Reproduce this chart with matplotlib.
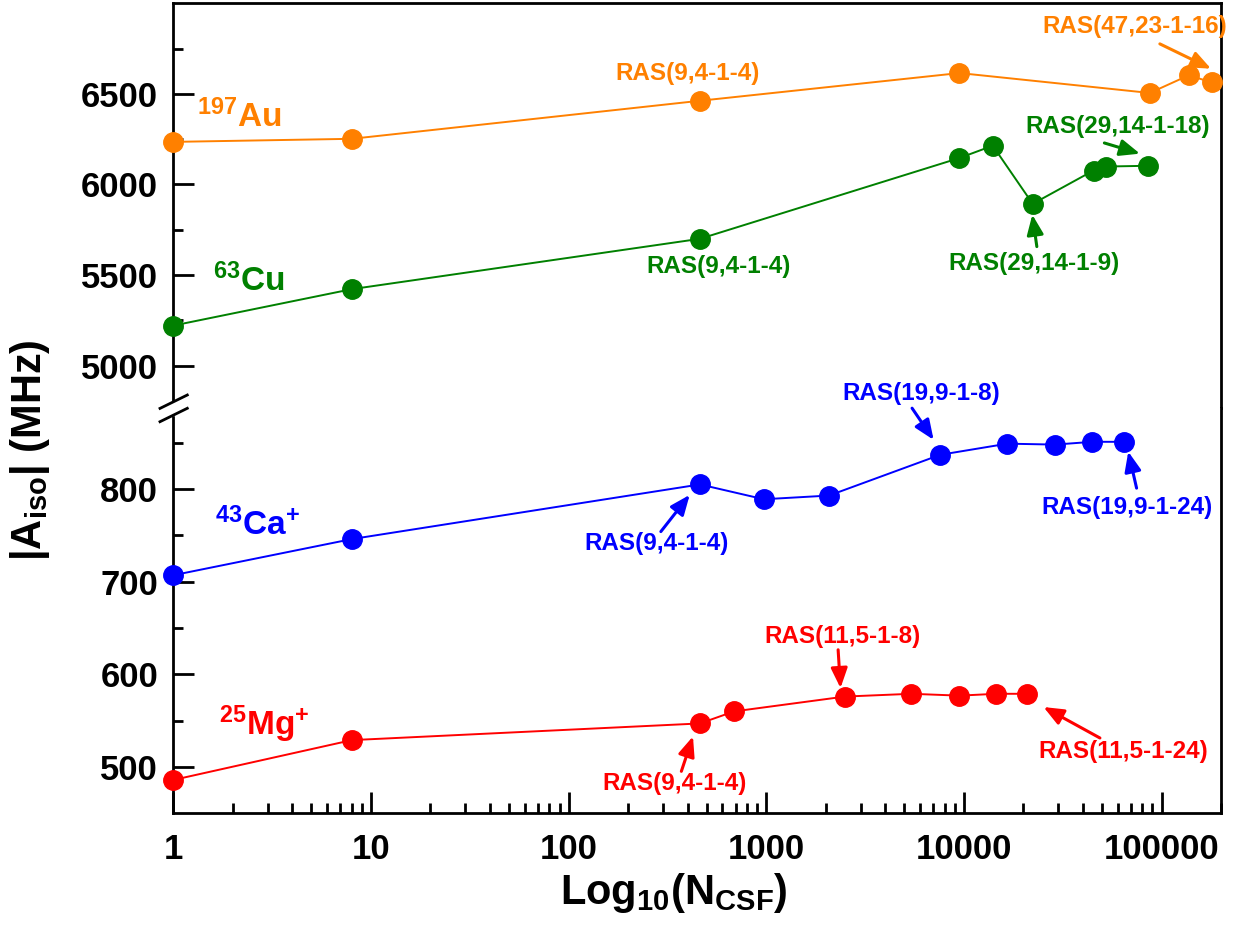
import numpy as np
import matplotlib
matplotlib.use("Agg")
import matplotlib.pyplot as plt
from matplotlib.ticker import FixedLocator, FuncFormatter, LogLocator, NullFormatter
from matplotlib.lines import Line2D
from matplotlib.patches import Rectangle

plt.rcParams['font.family'] = ['Liberation Sans', 'DejaVu Sans']
plt.rcParams['font.weight'] = 'bold'
plt.rcParams['mathtext.fontset'] = 'custom'
plt.rcParams['mathtext.rm'] = 'Liberation Sans:bold'
plt.rcParams['mathtext.it'] = 'Liberation Sans:bold'
plt.rcParams['mathtext.bf'] = 'Liberation Sans:bold'
plt.rcParams['mathtext.sf'] = 'Liberation Sans:bold'
plt.rcParams['mathtext.default'] = 'rm'

# number of CSFs and |A_iso| (MHz) for each system
n_au = [1, 8, 462, 9500, 87300, 137000, 180000]
a_au = [6235, 6252, 6462, 6615, 6505, 6602, 6564]

n_cu = [1, 8, 462, 9500, 14000, 22300, 45300, 52500, 85000]
a_cu = [5221, 5422, 5700, 6146, 6214, 5893, 6077, 6099, 6103]

n_ca = [1, 8, 462, 973, 2080, 7600, 16600, 29000, 44700, 64300]
a_ca = [707, 746, 805, 789, 793, 837, 849, 848, 851, 851]

n_mg = [1, 8, 462, 688, 2500, 5430, 9500, 14600, 20800]
a_mg = [486, 529, 547, 560, 576, 579, 577, 579, 579]

x_ticks = [1, 10, 100, 1000, 10000, 100000]
y_ticks_hi = [5000, 5500, 6000, 6500]
y_ticks_lo = [500, 600, 700, 800]

c_au = '#FF8000'
c_cu = '#008000'
c_ca = '#0000FF'
c_mg = '#FF0000'

W, H = 1233, 930
fig = plt.figure(figsize=(W / 100, H / 100), dpi=100)


def fx(px):
    return px / W


def fy(py):
    return 1 - py / H


left, right, top, brk, bottom = 173.3, 1221, 3.3, 408, 813.3
ax_hi = fig.add_axes([fx(left), fy(brk), fx(right - left), fy(top) - fy(brk)])
ax_lo = fig.add_axes([fx(left), fy(bottom), fx(right - left), fy(brk) - fy(bottom)], sharex=ax_hi)

ms = 14
lw = 1.4
ax_hi.plot(n_au, a_au, '-o', color=c_au, ms=ms, lw=lw, clip_on=False, zorder=3)
ax_hi.plot(n_cu, a_cu, '-o', color=c_cu, ms=ms, lw=lw, clip_on=False, zorder=3)
ax_lo.plot(n_ca, a_ca, '-o', color=c_ca, ms=ms, lw=lw, clip_on=False, zorder=3)
ax_lo.plot(n_mg, a_mg, '-o', color=c_mg, ms=ms, lw=lw, clip_on=False, zorder=3)

ax_lo.set_xscale('log')
ax_lo.set_xlim(1, 2.0e5)
ax_hi.set_ylim(4766, 7000)
ax_lo.set_ylim(450, 887.5)

for ax in (ax_hi, ax_lo):
    for s in ax.spines.values():
        s.set_linewidth(2)
    ax.tick_params(which='both', direction='in', width=2, labelsize=25, pad=11,
                   right=False, top=False)
    ax.tick_params(which='major', length=15)
    ax.tick_params(which='minor', length=7.5)

ax_hi.spines['bottom'].set_visible(False)
ax_lo.spines['top'].set_visible(False)
ax_hi.tick_params(which='both', bottom=False, labelbottom=False)

ax_hi.yaxis.set_major_locator(FixedLocator(y_ticks_hi))
ax_hi.yaxis.set_minor_locator(FixedLocator([5250, 5750, 6250, 6750]))
ax_lo.yaxis.set_major_locator(FixedLocator(y_ticks_lo))
ax_lo.yaxis.set_minor_locator(FixedLocator([550, 650, 750, 850]))

ax_lo.xaxis.set_major_locator(FixedLocator(x_ticks))
ax_lo.xaxis.set_major_formatter(FuncFormatter(lambda v, p: f"{int(round(v))}"))
ax_lo.xaxis.set_minor_locator(LogLocator(base=10, subs=np.arange(2, 10), numticks=20))
ax_lo.xaxis.set_minor_formatter(NullFormatter())
ax_lo.tick_params(axis='x', pad=14)

# species labels
lab = dict(fontsize=24, fontweight='bold', ha='left', va='baseline')
ax_hi.text(1.317, 6317, r'$^{197}$Au', color=c_au, **lab)
ax_hi.text(1.58, 5409, r'$^{63}$Cu', color=c_cu, **lab)
ax_lo.text(1.62, 750.6, r'$^{43}$Ca$^{+}$', color=c_ca, **lab)
ax_lo.text(1.71, 534.8, r'$^{25}$Mg$^{+}$', color=c_mg, **lab)

# RAS annotations
ann = dict(fontsize=17.5, fontweight='bold', ha='center', va='center')


def arrow(ax, tail, tip, c):
    ax.annotate('', xy=tip, xytext=tail, annotation_clip=False,
                arrowprops=dict(arrowstyle='-|>,head_length=0.6,head_width=0.25',
                                color=c, lw=2.2, mutation_scale=20,
                                shrinkA=0, shrinkB=0))


ax_hi.text(401, 6615, 'RAS(9,4-1-4)', color=c_au, **ann)
ax_hi.text(73300, 6870, 'RAS(47,23-1-16)', color=c_au, **ann)
arrow(ax_hi, (98100, 6776), (178000, 6639), c_au)

ax_hi.text(572, 5547, 'RAS(9,4-1-4)', color=c_cu, **ann)
ax_hi.text(22700, 5566, 'RAS(29,14-1-9)', color=c_cu, **ann)
arrow(ax_hi, (23400, 5657), (22200, 5833), c_cu)
ax_hi.text(59900, 6320, 'RAS(29,14-1-18)', color=c_cu, **ann)
arrow(ax_hi, (51400, 6229), (77800, 6170), c_cu)

ax_lo.text(6110, 903.4, 'RAS(19,9-1-8)', color=c_ca, clip_on=False, **ann)
arrow(ax_lo, (5470, 887.3), (7030, 853.1), c_ca)
ax_lo.text(66900, 780.5, 'RAS(19,9-1-24)', color=c_ca, **ann)
arrow(ax_lo, (74800, 801), (67900, 840.4), c_ca)
ax_lo.text(278, 740.9, 'RAS(9,4-1-4)', color=c_ca, **ann)
arrow(ax_lo, (293, 754.1), (410, 793.7), c_ca)

ax_lo.text(2427, 640.9, 'RAS(11,5-1-8)', color=c_mg, **ann)
arrow(ax_lo, (2311, 626.5), (2376, 585.2), c_mg)
ax_lo.text(64300, 516.8, 'RAS(11,5-1-24)', color=c_mg, **ann)
arrow(ax_lo, (48800, 531.3), (25300, 564.7), c_mg)
ax_lo.text(345, 482.7, 'RAS(9,4-1-4)', color=c_mg, **ann)
arrow(ax_lo, (372, 495.3), (426, 533), c_mg)

# axis break marks on the left spine
fig.add_artist(Rectangle((fx(170), fy(415)), fx(7), fy(401.7) - fy(415),
                         transform=fig.transFigure, color='white', zorder=5))
for yc in (401.7, 415.0):
    fig.add_artist(Line2D([fx(160), fx(187.3)], [fy(yc + 6.7), fy(yc - 6.7)],
                          transform=fig.transFigure, color='black', lw=2, zorder=6))

fig.text(fx(674), fy(893), r'Log$_{10}$(N$_{CSF}$)', fontsize=30, fontweight='bold',
         ha='center', va='center')
fig.text(fx(30), fy(450), r'|A$_{iso}$| (MHz)', fontsize=30, fontweight='bold',
         ha='center', va='center', rotation=90)

fig.savefig('out.png', dpi=100)
